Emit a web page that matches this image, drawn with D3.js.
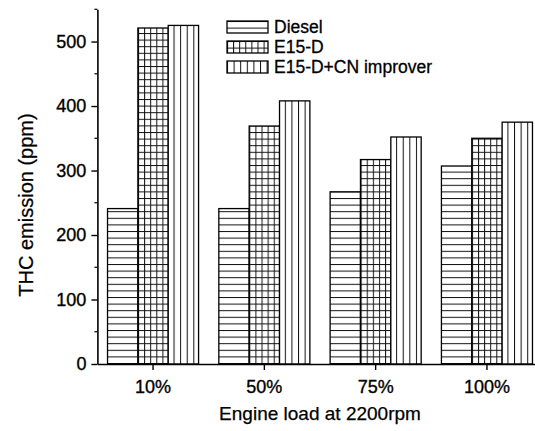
<!DOCTYPE html>
<html>
<head>
<meta charset="utf-8">
<script src="https://cdn.jsdelivr.net/npm/d3@7"></script>
<style>
  body { margin: 0; background: #fff; }
  text { font-family: Arial, "Liberation Sans", sans-serif; fill: #000; }
</style>
</head>
<body>
<div id="chart"></div>
<script>
// data
const loads = ["10%", "50%", "75%", "100%"];
const fuels = ["Diesel", "E15-D", "E15-D+CN improver"];
const diesel = [241, 241, 267, 307];
const e15d = [521, 369, 317, 350];
const e15dCn = [525, 408, 352, 375];
const yTicks = [0, 100, 200, 300, 400, 500];

const seriesValues = [diesel, e15d, e15dCn];
const rows = loads.map((l, i) => ({
  load: l,
  values: fuels.map((f, j) => ({ fuel: f, value: seriesValues[j][i] })),
}));

const width = 535;
const height = 431;

const svg = d3
  .select("#chart")
  .append("svg")
  .attr("width", width)
  .attr("height", height);

// hatch patterns, one per fuel
const defs = svg.append("defs");
const step = 6.6;

const pHoriz = defs
  .append("pattern")
  .attr("id", "pat-0")
  .attr("patternUnits", "userSpaceOnUse")
  .attr("width", step)
  .attr("height", step);
pHoriz.append("rect").attr("width", step).attr("height", step).attr("fill", "#fff");
pHoriz.append("line").attr("x1", 0).attr("x2", step).attr("y1", 0.5).attr("y2", 0.5)
  .attr("stroke", "#111").attr("stroke-width", 1);

const pGrid = defs
  .append("pattern")
  .attr("id", "pat-1")
  .attr("patternUnits", "userSpaceOnUse")
  .attr("width", 6.1)
  .attr("height", step);
pGrid.append("rect").attr("width", 6.1).attr("height", step).attr("fill", "#fff");
pGrid.append("line").attr("x1", 0).attr("x2", 6.1).attr("y1", 0.5).attr("y2", 0.5)
  .attr("stroke", "#111").attr("stroke-width", 1);
pGrid.append("line").attr("x1", 0.5).attr("x2", 0.5).attr("y1", 0).attr("y2", step)
  .attr("stroke", "#111").attr("stroke-width", 1);

const pVert = defs
  .append("pattern")
  .attr("id", "pat-2")
  .attr("patternUnits", "userSpaceOnUse")
  .attr("width", step)
  .attr("height", step);
pVert.append("rect").attr("width", step).attr("height", step).attr("fill", "#fff");
pVert.append("line").attr("x1", 0.5).attr("x2", 0.5).attr("y1", 0).attr("y2", step)
  .attr("stroke", "#111").attr("stroke-width", 1);

const x = d3
  .scaleBand()
  .domain(loads)
  .range([97.4, 542.6])
  .paddingInner(0.182)
  .paddingOuter(0.091);

const xInner = d3.scaleBand().domain(fuels).range([0, x.bandwidth()]);

const y = d3.scaleLinear().domain([0, 550]).range([364, 9.3]);

// bars
const groups = svg
  .append("g")
  .selectAll("g")
  .data(rows)
  .join("g")
  .attr("transform", (d) => `translate(${x(d.load)},0)`);

groups
  .selectAll("rect")
  .data((d) => d.values)
  .join("rect")
  .attr("x", (d) => xInner(d.fuel))
  .attr("y", (d) => y(d.value))
  .attr("width", xInner.bandwidth())
  .attr("height", (d) => y(0) - y(d.value))
  .attr("fill", (d) => `url(#pat-${fuels.indexOf(d.fuel)})`)
  .attr("stroke", "#000")
  .attr("stroke-width", 1.3);

// y axis, major + minor ticks
const yAxis = svg.append("g").attr("transform", "translate(97.4,0)");
yAxis
  .call(
    d3.axisLeft(y).tickValues(yTicks).tickSize(6).tickSizeOuter(0).tickPadding(5)
  )
  .call((g) => g.select(".domain").attr("stroke-width", 1.6))
  .call((g) => g.selectAll(".tick line").attr("stroke-width", 1.4))
  .call((g) =>
    g.selectAll("text")
      .style("font-size", "18px")
      .attr("font-family", null)
      .attr("stroke", "#000")
      .attr("stroke-width", 0.35)
  );
yAxis
  .append("g")
  .selectAll("line")
  .data(yTicks.map((v) => v + 50))
  .join("line")
  .attr("x1", -3)
  .attr("x2", 0)
  .attr("y1", (d) => y(d))
  .attr("y2", (d) => y(d))
  .attr("stroke", "#000")
  .attr("stroke-width", 1.2);

// x axis
svg
  .append("g")
  .attr("transform", `translate(0,${y(0)})`)
  .call(d3.axisBottom(x).tickSize(6).tickSizeOuter(0).tickPadding(10))
  .call((g) => g.select(".domain").attr("stroke-width", 1.6))
  .call((g) => g.selectAll(".tick line").attr("stroke-width", 1.4))
  .call((g) =>
    g.selectAll("text")
      .style("font-size", "18px")
      .attr("font-family", null)
      .attr("stroke", "#000")
      .attr("stroke-width", 0.35)
  );

// axis titles
svg
  .append("text")
  .attr("x", 320)
  .attr("y", 420)
  .style("text-anchor", "middle")
  .style("font-size", "19px")
  .attr("stroke", "#000")
  .attr("stroke-width", 0.25)
  .text("Engine load at 2200rpm");

svg
  .append("text")
  .attr("transform", "translate(33,205) rotate(-90)")
  .style("text-anchor", "middle")
  .style("font-size", "20px")
  .attr("stroke", "#000")
  .attr("stroke-width", 0.25)
  .text("THC emission (ppm)");

// legend
const legend = svg
  .append("g")
  .selectAll("g")
  .data(fuels)
  .join("g")
  .attr("transform", (d, i) => `translate(227,${21 + i * 20})`);

legend
  .append("rect")
  .attr("width", 41)
  .attr("height", 12)
  .attr("fill", (d, i) => `url(#pat-${i})`)
  .attr("stroke", "#000")
  .attr("stroke-width", 1.3);

legend
  .append("text")
  .attr("x", 47)
  .attr("y", 6)
  .attr("dy", "0.36em")
  .style("font-size", "17.5px")
  .attr("stroke", "#000")
  .attr("stroke-width", 0.3)
  .text((d) => d);
</script>
</body>
</html>
